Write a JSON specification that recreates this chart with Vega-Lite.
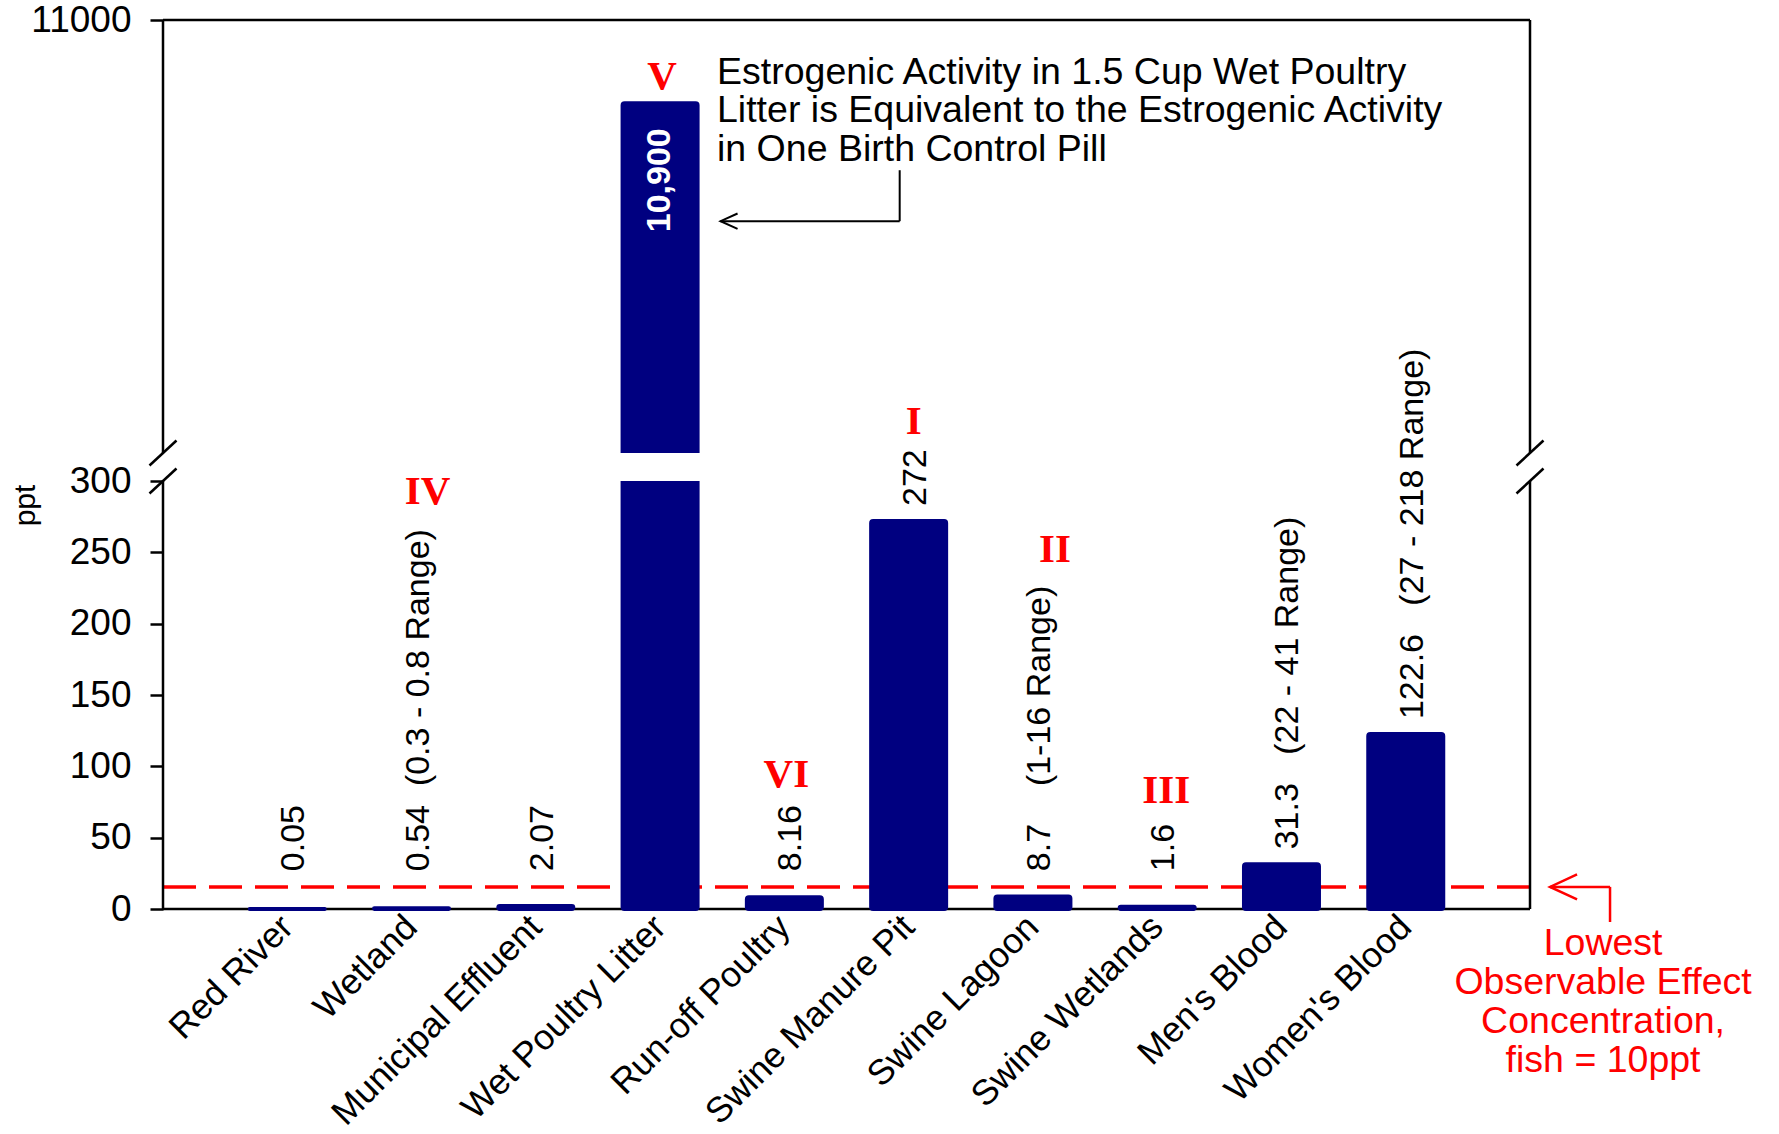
{
  "$schema": "https://vega.github.io/schema/vega-lite/v6.json",
  "width": 1367,
  "height": 889,
  "autosize": {"type": "none"},
  "padding": {"left": 163, "top": 20, "right": 249, "bottom": 225},
  "background": "white",
  "config": {"view": {"stroke": null}, "font": "Liberation Sans", "axis": {"grid": false}},
  "data": {"values": [
    {"category": "Red River", "value": 0.05, "label": "0.05", "numeral": null},
    {"category": "Wetland", "value": 0.54, "label": "0.54\u00a0\u00a0(0.3 - 0.8 Range)", "numeral": "IV"},
    {"category": "Municipal Effluent", "value": 2.07, "label": "2.07", "numeral": null},
    {"category": "Wet Poultry Litter", "value": 10900, "label": "10,900", "numeral": "V"},
    {"category": "Run-off Poultry", "value": 8.16, "label": "8.16", "numeral": "VI"},
    {"category": "Swine Manure Pit", "value": 272, "label": "272", "numeral": "I"},
    {"category": "Swine Lagoon", "value": 8.7, "label": "8.7\u00a0\u00a0\u00a0\u00a0(1-16 Range)", "numeral": "II"},
    {"category": "Swine Wetlands", "value": 1.6, "label": "1.6", "numeral": "III"},
    {"category": "Men's Blood", "value": 31.3, "label": "31.3\u00a0\u00a0\u00a0(22 - 41 Range)", "numeral": null},
    {"category": "Women's Blood", "value": 122.6, "label": "122.6\u00a0\u00a0\u00a0(27 - 218 Range)", "numeral": null}
  ]},
  "resolve": {"scale": {"x": "independent"}},
  "layer": [
    {
      "data": {"values": [{}]},
      "layer": [
        {"mark": {"type": "rule", "color": "#ff0000", "strokeWidth": 3.5, "strokeDash": [33, 13]},
         "encoding": {"x": {"datum": 0, "type": "quantitative", "scale": {"domain": [0, 11], "nice": false, "zero": false}, "axis": null}, "x2": {"datum": 11},
                      "y": {"datum": 15.5, "type": "quantitative", "scale": {"domain": [0, 300, 10480, 11000], "range": [889, 461, 433, 0], "nice": false, "zero": false}}}},
        {"mark": {"type": "rule", "color": "black", "strokeWidth": 2.5},
         "encoding": {"x": {"datum": 0, "type": "quantitative", "axis": null}, "x2": {"datum": 11},
                      "y": {"datum": 11000, "type": "quantitative"}}},
        {"mark": {"type": "rule", "color": "black", "strokeWidth": 2.5},
         "encoding": {"x": {"datum": 0, "type": "quantitative", "axis": null}, "x2": {"datum": 11},
                      "y": {"datum": 0, "type": "quantitative"}}},
        {"mark": {"type": "rule", "color": "black", "strokeWidth": 2.5},
         "encoding": {"x": {"datum": 0, "type": "quantitative", "axis": null},
                      "y": {"datum": 0, "type": "quantitative"}, "y2": {"datum": 300}}},
        {"mark": {"type": "rule", "color": "black", "strokeWidth": 2.5},
         "encoding": {"x": {"datum": 0, "type": "quantitative", "axis": null},
                      "y": {"datum": 10480, "type": "quantitative"}, "y2": {"datum": 11000}}},
        {"mark": {"type": "rule", "color": "black", "strokeWidth": 2.5},
         "encoding": {"x": {"datum": 11, "type": "quantitative", "axis": null},
                      "y": {"datum": 0, "type": "quantitative"}, "y2": {"datum": 300}}},
        {"mark": {"type": "rule", "color": "black", "strokeWidth": 2.5},
         "encoding": {"x": {"datum": 11, "type": "quantitative", "axis": null},
                      "y": {"datum": 10480, "type": "quantitative"}, "y2": {"datum": 11000}}},
        {"mark": {"type": "point", "shape": "M -1 0.926 L 1 -0.926", "size": 729, "filled": false, "color": "black", "strokeWidth": 2.5, "opacity": 1},
         "encoding": {"x": {"datum": 0, "type": "quantitative", "axis": null}, "y": {"datum": 300, "type": "quantitative"}}},
        {"mark": {"type": "point", "shape": "M -1 0.926 L 1 -0.926", "size": 729, "filled": false, "color": "black", "strokeWidth": 2.5, "opacity": 1},
         "encoding": {"x": {"datum": 0, "type": "quantitative", "axis": null}, "y": {"datum": 10480, "type": "quantitative"}}},
        {"mark": {"type": "point", "shape": "M -1 0.926 L 1 -0.926", "size": 729, "filled": false, "color": "black", "strokeWidth": 2.5, "opacity": 1},
         "encoding": {"x": {"datum": 11, "type": "quantitative", "axis": null}, "y": {"datum": 300, "type": "quantitative"}}},
        {"mark": {"type": "point", "shape": "M -1 0.926 L 1 -0.926", "size": 729, "filled": false, "color": "black", "strokeWidth": 2.5, "opacity": 1},
         "encoding": {"x": {"datum": 11, "type": "quantitative", "axis": null}, "y": {"datum": 10480, "type": "quantitative"}}},
        {"mark": {"type": "rule", "color": "#ff0000", "strokeWidth": 2.5},
         "encoding": {"x": {"datum": 11.161, "type": "quantitative", "axis": null}, "x2": {"datum": 11.644},
                      "y": {"datum": 15.5, "type": "quantitative"}}},
        {"mark": {"type": "rule", "color": "#ff0000", "strokeWidth": 2.5},
         "encoding": {"x": {"datum": 11.644, "type": "quantitative", "axis": null},
                      "y": {"datum": 15.5, "type": "quantitative"}, "y2": {"datum": -9.1}}},
        {"mark": {"type": "point", "shape": "M 1 -0.926 L -1 0 L 1 0.926", "size": 729, "filled": false, "color": "#ff0000", "strokeWidth": 2.5, "opacity": 1},
         "encoding": {"x": {"datum": 11.27, "type": "quantitative", "axis": null}, "y": {"datum": 15.5, "type": "quantitative"}}},
        {"mark": {"type": "rule", "color": "black", "strokeWidth": 2},
         "encoding": {"x": {"datum": 5.928, "type": "quantitative", "axis": null},
                      "y": {"datum": 10819.6, "type": "quantitative"}, "y2": {"datum": 10758.4}}},
        {"mark": {"type": "rule", "color": "black", "strokeWidth": 2},
         "encoding": {"x": {"datum": 4.486, "type": "quantitative", "axis": null}, "x2": {"datum": 5.928},
                      "y": {"datum": 10758.4, "type": "quantitative"}}},
        {"mark": {"type": "point", "shape": "M 1 -0.9 L -1 0 L 1 0.9", "size": 289, "filled": false, "color": "black", "strokeWidth": 2, "opacity": 1},
         "encoding": {"x": {"datum": 4.555, "type": "quantitative", "axis": null}, "y": {"datum": 10758.4, "type": "quantitative"}}},
        {"mark": {"type": "text", "align": "left", "baseline": "middle", "fontSize": 37.5, "lineHeight": 38.6, "color": "black",
                  "text": ["Estrogenic Activity in 1.5 Cup Wet Poultry", "Litter is Equivalent to the Estrogenic Activity", "in One Birth Control Pill"]},
         "encoding": {"x": {"datum": 4.458, "type": "quantitative", "axis": null}, "y": {"datum": 10936.8, "type": "quantitative"}}},
        {"mark": {"type": "text", "align": "center", "baseline": "middle", "fontSize": 37.5, "lineHeight": 39, "color": "#ff0000",
                  "text": ["Lowest", "Observable Effect", "Concentration,", "\u00a0fish = 10ppt"]},
         "encoding": {"x": {"datum": 11.588, "type": "quantitative", "axis": null}, "y": {"datum": -24.5, "type": "quantitative"}}}
      ]
    },
    {
      "layer": [
        {"mark": {"type": "bar", "color": "#000080", "stroke": "#000080", "strokeWidth": 4, "strokeJoin": "round", "cornerRadius": 2},
         "encoding": {
           "x": {"field": "category", "type": "nominal", "sort": null,
                 "scale": {"domain": ["Red River", "Wetland", "Municipal Effluent", "Wet Poultry Litter", "Run-off Poultry", "Swine Manure Pit", "Swine Lagoon", "Swine Wetlands", "Men's Blood", "Women's Blood"], "paddingInner": 0.3965, "paddingOuter": 0.698},
                 "axis": {"title": null, "domain": false, "ticks": false, "tickSize": 0, "labelAngle": -45, "labelAlign": "right", "labelBaseline": "top", "labelFontSize": 35.5, "labelColor": "black", "labelPadding": 0, "labelOffset": -12, "labelLimit": 0, "labelOverlap": false, "grid": false}},
           "y": {"field": "value", "type": "quantitative", "title": "ppt",
                 "scale": {"domain": [0, 300, 10480, 11000], "range": [889, 461, 433, 0], "nice": false, "zero": false},
                 "axis": {"values": [0, 50, 100, 150, 200, 250, 300, 11000], "format": "d", "domain": false, "ticks": true, "tickSize": 13, "tickWidth": 2.5, "tickColor": "black",
                          "labelFontSize": 37, "labelColor": "black", "labelPadding": 19, "grid": false, "labelOverlap": false, "labelFlush": false,
                          "title": "ppt", "titleFontSize": 30, "titleFontWeight": "normal", "titleColor": "black", "titleX": -138, "titleY": 485, "titleAngle": 270, "titleAlign": "center", "titleBaseline": "middle"}},
           "y2": {"datum": 0}
         }},
        {"transform": [{"filter": "datum.value > 300"}],
         "mark": {"type": "bar", "color": "white", "width": {"band": 1.1}},
         "encoding": {
           "x": {"field": "category", "type": "nominal", "sort": null, "title": null},
           "y": {"datum": 302, "type": "quantitative"}, "y2": {"datum": 10480}
         }},
        {"transform": [{"filter": "datum.value < 16"}],
         "mark": {"type": "text", "angle": 270, "align": "left", "baseline": "middle", "fontSize": 34, "color": "black", "dx": 15, "dy": 7},
         "encoding": {
           "x": {"field": "category", "type": "nominal", "sort": null, "title": null},
           "y": {"datum": 16, "type": "quantitative"},
           "text": {"field": "label"}
         }},
        {"transform": [{"filter": "datum.value >= 16 && datum.value <= 300"}],
         "mark": {"type": "text", "angle": 270, "align": "left", "baseline": "middle", "fontSize": 34, "color": "black", "dx": 15, "dy": 7},
         "encoding": {
           "x": {"field": "category", "type": "nominal", "sort": null, "title": null},
           "y": {"field": "value", "type": "quantitative", "title": "ppt"},
           "text": {"field": "label"}
         }},
        {"transform": [{"filter": "datum.value > 300"}],
         "mark": {"type": "text", "angle": 270, "align": "right", "baseline": "middle", "fontSize": 34, "fontWeight": "bold", "color": "white", "dx": -25, "dy": 0},
         "encoding": {
           "x": {"field": "category", "type": "nominal", "sort": null, "title": null},
           "y": {"field": "value", "type": "quantitative", "title": "ppt"},
           "text": {"field": "label"}
         }},
        {"transform": [{"filter": "datum.numeral === 'IV'"}],
         "mark": {"type": "text", "font": "Liberation Serif", "fontWeight": "bold", "fontSize": 41, "color": "#ff0000", "baseline": "middle", "dx": 16},
         "encoding": {"x": {"field": "category", "type": "nominal", "sort": null, "title": null}, "y": {"datum": 292.3, "type": "quantitative"}, "text": {"field": "numeral"}}},
        {"transform": [{"filter": "datum.numeral === 'V'"}],
         "mark": {"type": "text", "font": "Liberation Serif", "fontWeight": "bold", "fontSize": 41, "color": "#ff0000", "baseline": "middle", "dx": 2},
         "encoding": {"x": {"field": "category", "type": "nominal", "sort": null, "title": null}, "y": {"datum": 10931.9, "type": "quantitative"}, "text": {"field": "numeral"}}},
        {"transform": [{"filter": "datum.numeral === 'VI'"}],
         "mark": {"type": "text", "font": "Liberation Serif", "fontWeight": "bold", "fontSize": 41, "color": "#ff0000", "baseline": "middle", "dx": 2},
         "encoding": {"x": {"field": "category", "type": "nominal", "sort": null, "title": null}, "y": {"datum": 93.9, "type": "quantitative"}, "text": {"field": "numeral"}}},
        {"transform": [{"filter": "datum.numeral === 'I'"}],
         "mark": {"type": "text", "font": "Liberation Serif", "fontWeight": "bold", "fontSize": 41, "color": "#ff0000", "baseline": "middle", "dx": 5, "dy": -59},
         "encoding": {"x": {"field": "category", "type": "nominal", "sort": null, "title": null}, "y": {"datum": 300, "type": "quantitative"}, "text": {"field": "numeral"}}},
        {"transform": [{"filter": "datum.numeral === 'II'"}],
         "mark": {"type": "text", "font": "Liberation Serif", "fontWeight": "bold", "fontSize": 41, "color": "#ff0000", "baseline": "middle", "dx": 22},
         "encoding": {"x": {"field": "category", "type": "nominal", "sort": null, "title": null}, "y": {"datum": 251.6, "type": "quantitative"}, "text": {"field": "numeral"}}},
        {"transform": [{"filter": "datum.numeral === 'III'"}],
         "mark": {"type": "text", "font": "Liberation Serif", "fontWeight": "bold", "fontSize": 41, "color": "#ff0000", "baseline": "middle", "dx": 9},
         "encoding": {"x": {"field": "category", "type": "nominal", "sort": null, "title": null}, "y": {"datum": 82.7, "type": "quantitative"}, "text": {"field": "numeral"}}}
      ]
    }
  ]
}
